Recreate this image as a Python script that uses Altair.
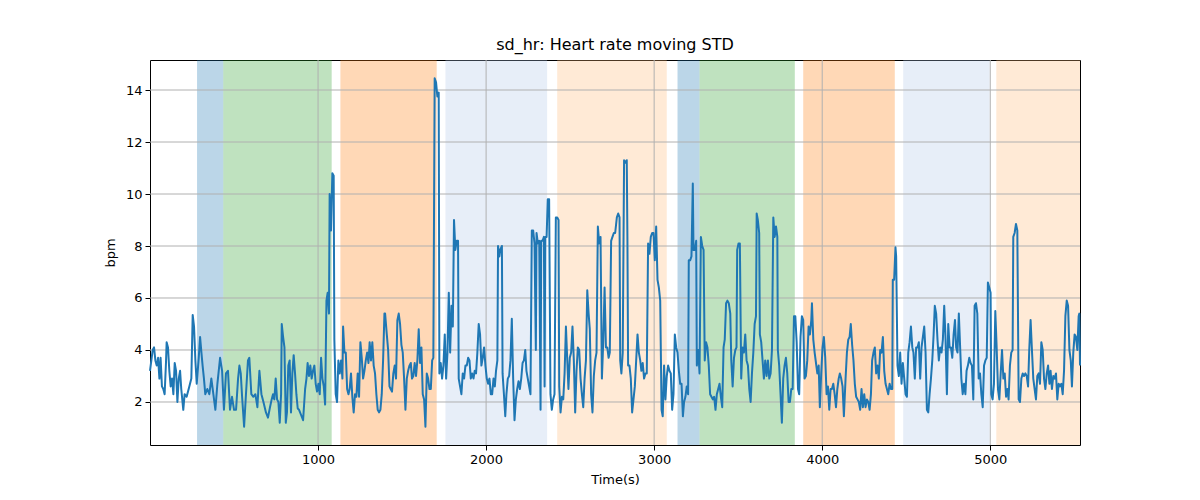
import altair as alt
import pandas as pd

# ---- series: time (s) and moving STD of heart rate (bpm), read segment by segment ----
seg1_t = [0,16,24,32,40,48,56,63,71,79,87,95,99,107,115,123,131,139,147,155,163,171,179,186,198,206,218,234,246,254,262,270,278,290,298,306,313,321,329,341,353,365,377,389,401,417,429,440,452,464,476,488,500,512,524,532,540,548,560,571,583,591,603,615,627,639,651,663,675,690,702]
seg1_v = [3.2,4.0,4.1,3.6,3.4,3.7,2.9,3.7,2.6,2.5,2.3,3.5,4.3,4.1,3.2,2.6,2.9,2.3,3.5,3.2,2.0,2.9,3.2,2.5,1.7,2.3,2.2,2.6,2.9,5.35,4.9,3.6,2.7,3.7,4.5,3.9,3.4,2.9,2.3,2.5,2.3,2.9,2.3,1.7,2.7,3.7,3.2,1.7,3.1,3.2,1.7,2.2,1.7,1.7,2.9,3.4,3.1,2.2,1.05,2.3,3.6,3.7,2.3,2.2,2.3,1.8,3.2,2.3,2.0,1.6,1.4]

seg2_t = [714,724,732,740,748,756,764,772,780,784,792,800,808,815,823,831,839,847,855,863,871,879,887,899,911,923,931,938,946,954,962,970,978,986,994,1002,1010,1018,1026,1034,1042,1050,1057,1065,1069,1077,1085,1093,1097,1105,1113,1121,1129,1137,1145,1149,1157,1165,1173,1181,1188,1196,1204,1212,1220,1228,1236,1244,1252,1260,1268,1276,1284,1292,1300,1307,1315,1323,1331,1339,1347,1355,1363,1371,1379,1387,1395]
seg2_v = [1.8,2.1,2.3,2.1,2.9,2.1,2.0,1.2,2.3,5.0,4.5,4.1,1.2,1.6,3.4,3.6,1.6,3.1,3.8,3.1,2.3,1.75,1.7,1.5,1.3,2.5,2.9,3.5,3.0,3.4,2.9,3.2,3.4,2.7,2.4,2.7,2.3,3.7,2.9,2.6,1.9,5.9,6.2,5.4,10.0,8.6,10.8,10.7,4.4,2.3,2.0,3.6,3.1,3.6,2.9,4.9,3.9,3.9,2.5,2.3,2.5,3.1,2.2,1.6,2.3,2.2,3.1,2.2,4.3,3.7,2.9,3.2,3.6,3.9,3.5,4.3,3.6,4.3,3.4,3.1,2.3,1.7,1.6,1.7,2.3,3.6,5.4]

seg3_t = [1399,1409,1417,1425,1432,1440,1448,1456,1464,1472,1480,1488,1496,1504,1512,1520,1528,1536,1544,1552,1559,1567,1575,1583,1591,1599,1607,1615,1623,1631,1639,1647,1655,1663,1671,1679,1686,1694,1702,1710,1718,1722,1730,1738,1746,1754,1762,1770,1778,1786,1794,1802,1809,1817,1825,1833,1837,1845,1853,1861,1869,1877,1885,1893,1901,1909,1917,1925,1932,1940,1948,1956,1964,1972,1980,1988,1996,2004,2012,2020,2028,2036,2044,2052,2059,2067,2071,2079]
seg3_v = [5.4,4.6,4.0,2.6,2.5,2.4,3.1,3.4,2.9,5.15,5.4,5.0,4.2,3.9,2.9,1.7,2.9,3.2,3.4,3.5,2.9,3.0,3.5,3.0,3.6,4.8,3.5,4.1,2.3,2.1,1.05,3.1,2.9,2.5,2.5,3.6,3.7,14.45,14.3,13.75,13.9,3.1,3.5,2.9,3.4,4.6,2.9,3.9,6.2,3.9,5.7,4.9,9.0,7.85,8.2,8.2,2.9,2.6,2.3,3.1,2.9,3.4,3.4,3.7,3.6,2.9,3.1,2.9,3.2,3.1,3.9,5.0,4.6,3.4,3.7,4.1,3.4,2.9,2.7,2.9,2.3,2.3,2.9,2.6,3.2,3.6,8.0,7.6]

seg4_t = [2084,2094,2098,2106,2114,2121,2129,2137,2145,2153,2161,2169,2177,2185,2193,2201,2209,2217,2225,2233,2240,2248,2256,2264,2272,2280,2288,2296,2300,2308,2316,2324,2328,2336,2344,2348,2352,2360,2367,2375,2383,2391,2399,2407,2415,2423,2431,2435,2443,2451,2459,2467,2475,2483,2490,2498,2506,2514,2522,2530,2538,2546,2554,2562,2570,2578,2586,2594,2602,2610,2617,2625,2633,2641,2649,2657,2665,2673,2681,2689,2697,2705,2713,2721,2729,2736,2744,2752,2760]
seg4_v = [7.85,8.0,3.1,2.3,1.45,2.3,2.9,3.0,3.6,5.2,2.9,1.3,2.1,2.5,2.8,2.5,2.9,3.5,3.6,4.0,3.2,2.9,2.6,2.3,8.6,8.6,8.1,4.0,8.5,8.1,8.2,1.7,8.2,8.2,8.35,2.6,8.35,8.35,9.8,9.8,2.3,1.7,2.1,2.3,9.1,9.1,9.0,2.6,1.6,2.2,2.1,3.1,4.9,3.6,2.5,3.7,3.9,4.9,3.6,1.6,3.2,4.1,4.0,2.9,2.3,1.8,2.9,3.6,6.3,5.4,4.8,2.3,1.6,3.0,3.6,3.9,8.75,8.1,8.35,2.9,4.3,6.4,4.1,4.1,3.7,3.9,8.2,8.35,8.5]

seg5_t = [2768,2778,2786,2794,2798,2805,2813,2821,2829,2837,2841,2845,2853,2861,2869,2877,2885,2893,2901,2909,2917,2924,2932,2940,2948,2956,2964,2972,2980,2988,2996,3004,3012,3020,3028,3036,3044,3051,3059,3067,3075,3083,3091,3099,3107,3115,3123,3131,3139,3147,3155,3163,3171,3178,3186,3194,3202,3206,3214,3222,3230,3234,3242,3250,3254,3262,3270,3278,3286,3294,3301,3309,3317,3325,3333,3341,3349,3357,3365,3373,3381,3389,3397,3405,3413,3420,3428,3436,3444]
seg5_v = [8.5,9.1,9.25,9.1,3.6,3.1,3.9,11.3,11.2,11.3,8.2,3.4,3.4,2.9,1.6,2.1,2.6,3.6,4.6,3.9,3.6,3.2,3.5,2.9,3.1,3.1,8.1,7.7,8.35,8.5,8.5,7.45,8.75,6.7,6.4,5.9,1.7,1.45,3.4,2.1,3.0,3.4,3.2,3.1,1.7,2.3,4.6,4.1,3.9,3.2,2.7,2.7,1.45,2.0,2.2,2.6,2.3,7.45,7.45,7.6,10.4,7.85,7.85,8.2,3.4,4.0,3.1,8.35,8.0,7.85,3.6,4.3,4.1,3.4,2.3,2.2,2.1,2.2,1.7,2.3,2.5,2.7,2.2,1.8,4.1,4.4,5.8,5.9,5.8]

seg6_t = [3453,3459,3467,3475,3483,3490,3494,3502,3510,3518,3526,3534,3542,3550,3558,3566,3574,3582,3590,3598,3606,3610,3617,3625,3629,3637,3645,3653,3661,3669,3677,3685,3693,3701,3709,3717,3725,3733,3736,3744,3752,3760,3768,3776,3784,3792,3800,3808,3816,3824,3832,3840,3848,3856,3863,3871,3879,3887,3895,3903,3911,3919,3927,3935,3939,3947,3955,3963,3971,3979,3986,3994,4002,4010,4018,4026,4034,4042,4050,4058,4066,4074,4082,4090,4098,4105,4113,4121,4129]
seg6_v = [5.4,3.6,2.6,3.7,4.0,4.1,7.85,8.1,8.1,2.9,4.1,3.9,4.6,3.6,3.4,2.5,2.0,3.1,3.9,5.0,5.3,9.25,9.0,8.5,4.6,4.3,3.6,2.9,3.6,3.0,3.6,2.9,3.1,4.0,9.1,8.35,8.75,8.35,4.0,3.4,2.3,1.2,2.9,3.4,3.7,3.1,2.0,2.0,2.5,2.5,5.3,5.3,4.3,2.5,2.3,4.5,5.3,5.15,2.9,3.0,3.6,4.9,4.6,5.15,5.8,4.4,3.9,3.5,3.1,3.4,1.8,3.1,4.1,4.5,3.7,2.3,2.6,1.7,2.5,2.5,2.7,2.3,1.8,2.5,2.9,3.1,2.9,2.6,1.45]

seg7_t = [4139,4147,4155,4163,4170,4178,4186,4194,4202,4210,4218,4226,4234,4242,4250,4258,4266,4274,4282,4290,4297,4305,4313,4321,4329,4337,4345,4353,4361,4369,4377,4385,4393,4401,4409,4417,4420,4428,4436,4440,4448,4456,4464,4472,4480,4488,4496,4504,4512,4520,4528,4536,4543,4551,4559,4567,4575,4583,4591,4599,4607,4615,4623,4631,4639,4647,4655,4663,4670,4678,4686,4694,4702,4710,4718,4726,4734,4742,4750,4758,4766,4774,4782,4790,4797,4805,4813]
seg7_v = [2.9,3.9,4.4,4.5,5.0,4.2,3.6,2.7,2.2,2.1,2.0,1.7,2.5,1.8,2.3,1.8,2.1,2.0,1.7,2.3,3.6,3.9,4.1,3.1,3.4,2.9,4.0,3.9,4.5,3.2,2.7,2.5,2.3,2.7,2.5,2.5,6.7,6.7,7.95,7.6,3.4,3.0,3.9,2.7,3.5,2.9,2.3,2.2,3.9,4.3,4.9,4.1,3.9,2.9,4.1,4.1,4.3,2.9,4.1,4.5,4.9,3.9,1.7,1.6,2.3,2.9,3.6,4.6,5.7,5.4,4.4,3.6,4.1,3.9,4.4,5.7,4.4,2.3,5.0,4.1,4.1,3.7,4.6,5.15,4.1,3.9,5.4]

seg8_t = [4828,4836,4844,4852,4859,4867,4875,4883,4891,4899,4907,4915,4923,4931,4939,4947,4955,4963,4971,4979,4986,4994,5002,5006,5014,5022,5030,5038,5046,5054,5062,5070,5078,5086,5094,5102,5109,5117,5125,5133,5137,5145,5153,5161,5169,5177,5185,5193,5201,5209,5217,5225,5232,5240,5248,5256,5264,5272,5280,5288,5296,5304,5312,5320,5328,5336,5344,5352,5359,5367,5375,5383,5391,5399,5407,5415,5423,5431,5439,5447,5455,5463,5471,5479,5486,5494,5502,5510,5518,5526,5530,5534]
seg8_v = [2.9,2.3,2.7,2.3,3.2,3.4,3.7,3.5,3.4,2.1,5.7,5.8,5.4,2.9,3.1,2.3,1.8,3.4,3.6,3.7,6.6,6.4,6.2,2.3,2.1,2.7,5.5,4.1,2.5,2.1,3.1,4.0,2.9,3.1,2.2,2.5,2.1,3.4,3.9,4.0,8.35,8.5,8.85,8.6,2.1,2.0,2.9,3.1,3.0,3.1,3.0,2.6,4.0,5.15,4.0,2.9,2.5,2.1,3.0,3.1,2.7,4.3,4.0,2.9,2.5,3.1,3.4,2.7,3.2,2.5,3.0,2.9,3.1,2.1,2.7,2.6,2.7,2.3,3.2,5.3,5.9,5.7,4.0,3.6,2.6,3.9,4.6,4.5,4.0,5.3,5.4,3.4]

# ---- shaded activity periods ----
band_start = [280, 436, 1133, 1758, 2423, 3139, 3270, 3887, 4482, 5036]
band_end = [436, 1081, 1706, 2363, 3075, 3270, 3837, 4432, 4996, 5534]
band_color = ["#1f77b4", "#2ca02c", "#ff7f0e", "#aec7e8", "#ffbb78",
              "#1f77b4", "#2ca02c", "#ff7f0e", "#aec7e8", "#ffbb78"]

x_ticks = [1000, 2000, 3000, 4000, 5000]
y_ticks = [2, 4, 6, 8, 10, 12, 14]

X_DOMAIN = [0, 5534]
Y_DOMAIN = [0.346, 15.154]

rows = []
for ts, vs in [(seg1_t, seg1_v), (seg2_t, seg2_v), (seg3_t, seg3_v), (seg4_t, seg4_v),
               (seg5_t, seg5_v), (seg6_t, seg6_v), (seg7_t, seg7_v), (seg8_t, seg8_v)]:
    for t, v in zip(ts, vs):
        rows.append({"t": t, "v": v})
line_df = pd.DataFrame(rows)

bands_df = pd.DataFrame({"start": band_start, "end": band_end, "color": band_color})
xgrid_df = pd.DataFrame({"x": x_ticks})
ygrid_df = pd.DataFrame({"y": y_ticks})

FONT = "DejaVu Sans"
xscale = alt.Scale(domain=X_DOMAIN, nice=False, zero=False)
yscale = alt.Scale(domain=Y_DOMAIN, nice=False, zero=False)

bands = alt.Chart(bands_df).mark_rect(opacity=0.3).encode(
    x=alt.X("start:Q", scale=xscale),
    x2="end:Q",
    color=alt.Color("color:N", scale=None),
)

xgrid = alt.Chart(xgrid_df).mark_rule(color="#b0b0b0", strokeWidth=1).encode(
    x=alt.X("x:Q", scale=xscale)
)
ygrid = alt.Chart(ygrid_df).mark_rule(color="#b0b0b0", strokeWidth=1).encode(
    y=alt.Y("y:Q", scale=yscale)
)

line = alt.Chart(line_df).mark_line(color="#1f77b4", strokeWidth=2, strokeJoin="round").encode(
    x=alt.X("t:Q", scale=xscale,
            axis=alt.Axis(values=x_ticks, title="Time(s)", grid=False, format="d")),
    y=alt.Y("v:Q", scale=yscale,
            axis=alt.Axis(values=y_ticks, title="bpm", grid=False, format="d")),
)

chart = alt.layer(bands, xgrid, ygrid, line).properties(
    width=930,
    height=385,
    title=alt.TitleParams("sd_hr: Heart rate moving STD", font=FONT, fontSize=16,
                          fontWeight="normal", color="black", offset=7),
    autosize=alt.AutoSizeParams(type="none"),
    padding={"left": 142, "top": 52, "right": 40, "bottom": 40},
).configure_view(
    stroke="black", strokeWidth=1
).configure_axis(
    labelFont=FONT, titleFont=FONT, labelFontSize=13, titleFontSize=13,
    labelColor="black", titleColor="black", titleFontWeight="normal",
    tickColor="black", tickSize=5, domain=False, labelPadding=3,
).configure_axisX(
    titlePadding=7
).configure_axisY(
    titlePadding=8
)

chart.save("out.html", embed_options={"renderer": "svg", "actions": False})
